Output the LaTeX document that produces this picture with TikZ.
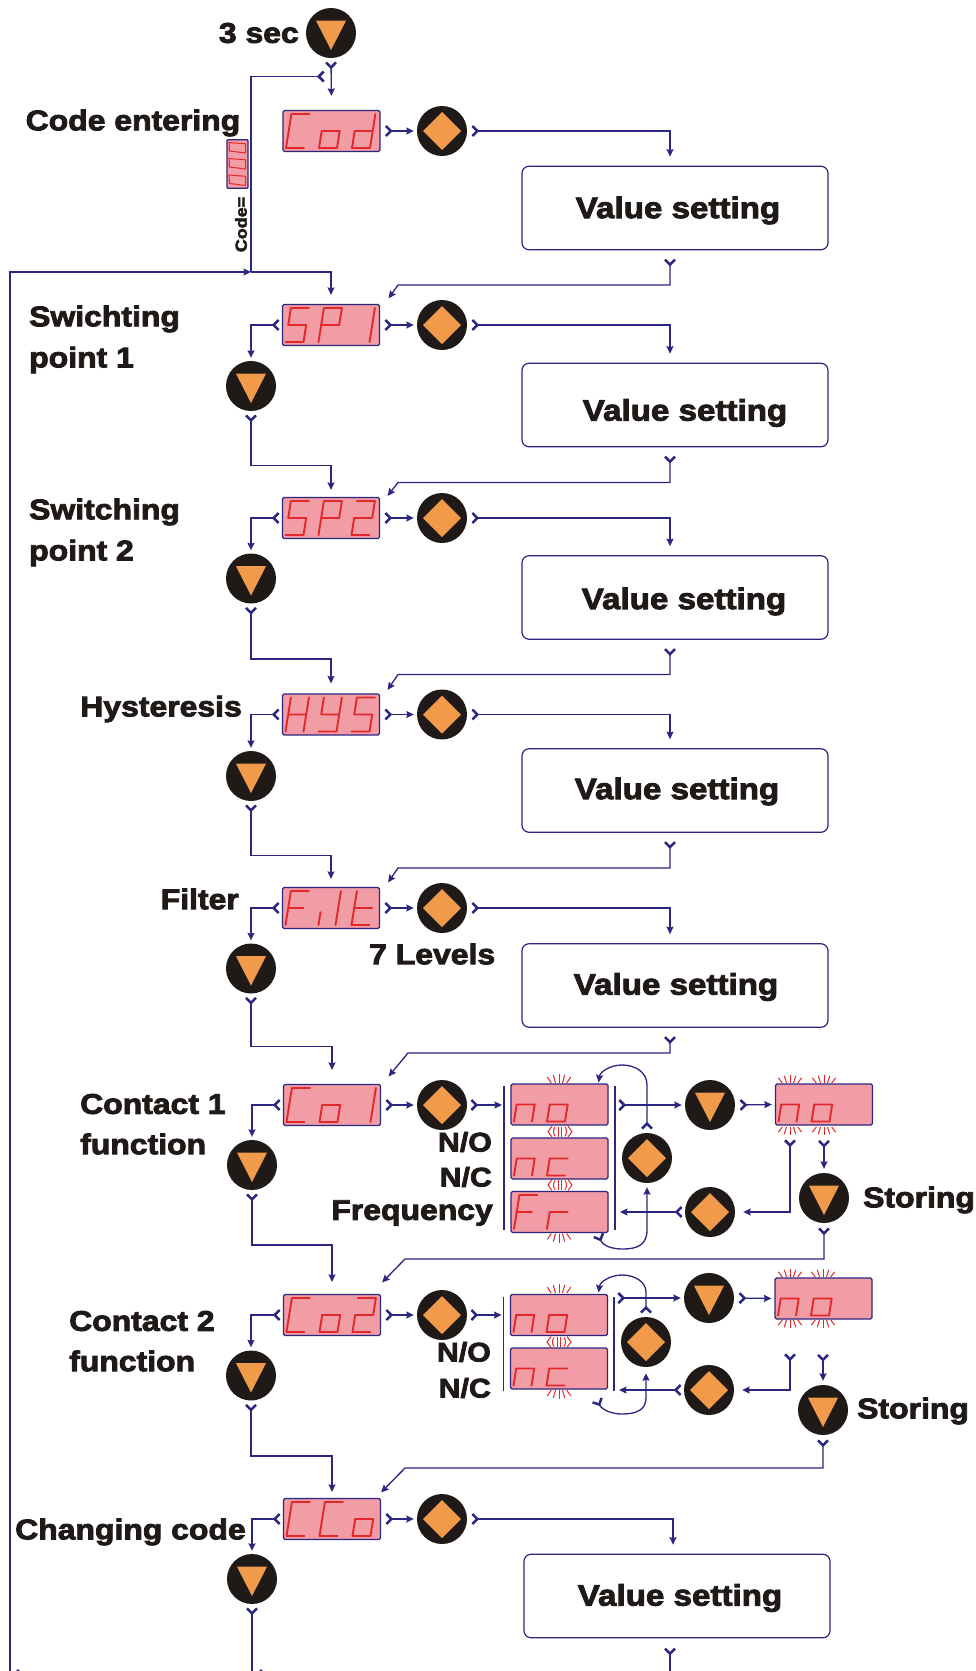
\documentclass[tikz,border=0pt]{standalone}
\usepackage{fontspec}
\setmainfont{Liberation Sans}[BoldFeatures={FakeBold=3,FakeStretch=1.12}]
\usetikzlibrary{arrows.meta,calc}
\definecolor{navy}{HTML}{2B2680}
\definecolor{ink}{HTML}{1F1A17}
\definecolor{orng}{HTML}{F09A4A}
\definecolor{pnk}{HTML}{F29CA5}
\definecolor{rd}{HTML}{E3282B}
\tikzset{
 x=1pt,y=-1pt,
 chevtip/.tip={Straight Barb[reversed,length=5pt,width=10pt,line width=2.5pt]},
 headtip/.tip={Stealth[length=7.5pt,width=7pt,inset=1pt]},
 flow/.style={draw=navy,line width=1.3pt,chevtip-headtip,shorten <=4pt,shorten >=3pt},
 chev/.style={draw=navy,line width=1.3pt,chevtip-,shorten <=4pt},
 arr/.style={draw=navy,line width=1.3pt,-headtip,shorten >=3pt},
 plain/.style={draw=navy,line width=1.3pt},
 disp/.style={draw=navy,line width=1.2pt,fill=pnk,rounded corners=1.5pt,minimum width=97pt,minimum height=41pt,inner sep=0pt},
 btn/.style={circle,fill=ink,minimum size=50pt,inner sep=0pt},
 vbox/.style={draw=navy,line width=1.2pt,fill=white,rounded corners=7pt,minimum width=306pt,minimum height=83.5pt,inner sep=0pt},
 lab/.style={font=\bfseries\fontsize{28.5}{32}\selectfont,text=ink,inner sep=0pt},
 vlab/.style={font=\bfseries\fontsize{29.6}{32}\selectfont,text=ink,inner sep=0pt},
 nlab/.style={font=\bfseries\fontsize{27}{32}\selectfont,text=ink,inner sep=0pt},
 seg/.style={draw=rd,line width=1.9pt,line join=round,line cap=round},
 ray/.style={draw=rd,line width=1pt},
}
\newcommand{\downbtn}[3]{\node[btn] (#1) at (#2,#3) {};
 \fill[orng] ([shift={(-15,-12.3)}]#1.center)--([shift={(15,-12.3)}]#1.center)--([shift={(0,17)}]#1.center)--cycle;}
\newcommand{\diabtn}[3]{\node[btn] (#1) at (#2,#3) {};
 \fill[orng] ([shift={(-19,0)}]#1.center)--([shift={(0,-19)}]#1.center)--([shift={(19,0)}]#1.center)--([shift={(0,19)}]#1.center)--cycle;}
\def\gC{(1,2)--(0,2)--(0,0)--(1,0)}
\def\go{(0,0)--(0,1)--(1,1)--(1,0)--cycle}
\def\gd{(1,2)--(1,0)--(0,0)--(0,1)--(1,1)}
\def\gS{(1,2)--(0,2)--(0,1)--(1,1)--(1,0)--(0,0)}
\def\gP{(0,0)--(0,2)--(1,2)--(1,1)--(0,1)}
\def\gone{(1,0)--(1,2)}
\def\gtwo{(0,2)--(1,2)--(1,1)--(0,1)--(0,0)--(1,0)}
\def\gH{(0,0)--(0,2) (1,0)--(1,2) (0,1)--(1,1)}
\def\gY{(0,2)--(0,1)--(1,1) (1,2)--(1,0)--(0,0)}
\def\gF{(1,2)--(0,2)--(0,0) (0,1)--(0.85,1)}
\def\gi{(0,0)--(0,0.75)}
\def\gl{(0,0)--(0,2)}
\def\gt{(0,2)--(0,0)--(1,0) (0,1)--(1,1)}
\def\gn{(0,0)--(0,1)--(1,1)--(1,0)}
\def\gc{(1,1)--(0,1)--(0,0)--(1,0)}
\def\gr{(0,0)--(0,1)--(1,1)}
\newcommand{\dig}[3]{\begin{scope}[shift={(#1.center)},shift={(#2,17)},x={(18pt,0pt)},y={(2.7pt,17pt)}]\draw[seg] #3;\end{scope}}
\newcommand{\three}[4]{\dig{#1}{-45.5}{#2}\dig{#1}{-12.5}{#3}\dig{#1}{20.5}{#4}}
\newcommand{\fan}[3]{\begin{scope}[shift={(#1,#2)}]
 \foreach \a/\b/\k in {-7.7/-11.7/0.65,-3.5/-5.7/0.9,0/0/1,3.5/5.7/0.9,7.7/11.7/0.65}{\draw[ray] (\a,0)--(\b,\k*#3);}\end{scope}}
\newcommand{\blink}[2]{\begin{scope}[shift={(#1,#2)}]
 \draw[ray] (-8,-5.5)--(-12,0)--(-8,5.5) (8,-5.5)--(12,0)--(8,5.5);
 \draw[ray] (-5,-4.5) .. controls (-7,-2) and (-7,2) .. (-5,4.5);
 \draw[ray] (5,-4.5) .. controls (7,-2) and (7,2) .. (5,4.5);
 \draw[ray] (-1.8,-5)--(-1.8,5) (1.8,-5)--(1.8,5);\end{scope}}
\begin{document}
\begin{tikzpicture}
\useasboundingbox (0,0) rectangle (976,1671);
\fill[white] (0,0) rectangle (976,1671);

% buttons
\downbtn{btop}{331}{33}
\downbtn{b1}{251}{386}
\downbtn{b2}{251}{578.5}
\downbtn{b3}{251}{776}
\downbtn{b4}{251}{968.5}
\downbtn{b5}{252}{1165}
\downbtn{b6}{251}{1375.5}
\downbtn{b7}{252}{1579}
\diabtn{m0}{442}{131}
\diabtn{m1}{442}{325}
\diabtn{m2}{442}{518}
\diabtn{m3}{442}{714.5}
\diabtn{m4}{442}{908}
\diabtn{m5}{442}{1105}
\diabtn{m6}{442}{1315}
\diabtn{m7}{442}{1519}

% displays
\node[disp] (d0) at (331.5,131) {}; \three{d0}{\gC}{\go}{\gd}
\node[disp] (d1) at (331,325) {}; \three{d1}{\gS}{\gP}{\gone}
\node[disp] (d2) at (331,518) {}; \three{d2}{\gS}{\gP}{\gtwo}
\node[disp] (d3) at (331,714.5) {}; \three{d3}{\gH}{\gY}{\gS}
\node[disp] (d4) at (331,908) {}; \dig{d4}{-45.5}{\gF}\dig{d4}{-12.5}{\gi}\dig{d4}{4.5}{\gl}\dig{d4}{20.5}{\gt}
\node[disp] (d5) at (332,1105) {}; \three{d5}{\gC}{\go}{\gone}
\node[disp] (d6) at (332,1315) {}; \three{d6}{\gC}{\go}{\gtwo}
\node[disp] (d7) at (332,1519) {}; \three{d7}{\gC}{\gC}{\go}

% value boxes
\node[vbox] (v0) at (675,208) {}; \node[vlab] (vt0) at (678,210.5) {Value setting};
\node[vbox] (v1) at (675,405) {}; \node[vlab] (vt1) at (685,413) {Value setting};
\node[vbox] (v2) at (675,597.5) {}; \node[vlab] (vt2) at (684,601.5) {Value setting};
\node[vbox] (v3) at (675,790.5) {}; \node[vlab] (vt3) at (677,791.5) {Value setting};
\node[vbox] (v4) at (675,985.5) {}; \node[vlab] (vt4) at (676,987) {Value setting};
\node[vbox] (v7) at (677,1596) {}; \node[vlab] (vt7) at (680,1598) {Value setting};

% flashing displays, contact 1
\node[disp] (a1) at (559.5,1104.5) {}; \dig{a1}{-45.5}{\gn}\dig{a1}{-12.5}{\go}
\node[disp] (a2) at (559.5,1158.5) {}; \dig{a2}{-45.5}{\gn}\dig{a2}{-12.5}{\gc}
\node[disp] (a3) at (559.5,1212) {}; \dig{a3}{-45.5}{\gF}\dig{a3}{-12.5}{\gr}
\node[disp] (a4) at (824,1104.5) {}; \dig{a4}{-45.5}{\gn}\dig{a4}{-12.5}{\go}
\diabtn{q1}{647}{1158}
\downbtn{q2}{710}{1105}
\diabtn{q3}{710}{1212}
\downbtn{q4}{824}{1198}
\coordinate (bl1a) at (504,1086); \coordinate (bl1b) at (504,1230); \coordinate (bl1m) at (504,1105);
\coordinate (br1a) at (615,1086); \coordinate (br1b) at (615,1230); \coordinate (br1m) at (615,1105); \coordinate (br1n) at (615,1212);
\draw[plain] (bl1a)--(bl1b) (br1a)--(br1b);
\fan{559}{1083}{-9}\fan{559}{1233.5}{9}
\fan{790}{1083}{-8}\fan{824}{1083}{-8}\fan{790}{1127}{8}\fan{824}{1127}{8}
\blink{560}{1131.5}\blink{560}{1185}

% flashing displays, contact 2
\node[disp] (e1) at (559,1315) {}; \dig{e1}{-45.5}{\gn}\dig{e1}{-12.5}{\go}
\node[disp] (e2) at (559,1368.5) {}; \dig{e2}{-45.5}{\gn}\dig{e2}{-12.5}{\gc}
\node[disp] (e4) at (823.5,1298.5) {}; \dig{e4}{-45.5}{\gn}\dig{e4}{-12.5}{\go}
\diabtn{r1}{646}{1342}
\downbtn{r2}{709}{1298}
\diabtn{r3}{709}{1390}
\downbtn{r4}{823}{1410}
\coordinate (bl2a) at (503.5,1297); \coordinate (bl2b) at (503.5,1391); \coordinate (bl2m) at (503.5,1315);
\coordinate (br2a) at (614,1297); \coordinate (br2b) at (614,1391); \coordinate (br2m) at (614,1298); \coordinate (br2n) at (614,1390);
\draw[plain] (bl2a)--(bl2b) (br2a)--(br2b);
\fan{559}{1293}{-9}\fan{559}{1390}{9}
\fan{790}{1277}{-8}\fan{823}{1277}{-8}\fan{790}{1320}{8}\fan{823}{1320}{8}
\blink{559}{1342}

% small code display
\node[draw=navy,line width=1.2pt,fill=pnk,rounded corners=1pt,minimum width=21pt,minimum height=48.5pt,inner sep=0pt] (sc) at (237.5,164) {};
\foreach \y in {142.5,158.5,175}{\draw[rd,line width=1pt] (229,\y)--(245.7,\y+1.3)--(245.7,\y+10.5)--(229.5,\y+8.5)--cycle;}
\node[font=\bfseries\fontsize{16}{18}\selectfont,text=ink,rotate=90,inner sep=0pt] (codeeq) at (241,224.5) {Code=};

% labels
\node[lab,anchor=east] (t1) at (299,33) {3 sec};
\node[lab,anchor=west] (t2) at (25.5,123) {Code entering};
\node[lab,anchor=west] (t3) at (29,319) {Swichting};
\node[lab,anchor=west] (t4) at (29,360) {point 1};
\node[lab,anchor=west] (t5) at (29,512) {Switching};
\node[lab,anchor=west] (t6) at (29,553) {point 2};
\node[lab,anchor=east] (t7) at (242,709) {Hysteresis};
\node[lab,anchor=east] (t8) at (239,899) {Filter};
\node[lab,anchor=west] (t9) at (369,954) {7 Levels};
\node[lab,anchor=west] (t10) at (80,1104) {Contact 1};
\node[lab,anchor=west] (t11) at (80,1144) {function};
\node[nlab,anchor=east] (t12) at (492,1142) {N/O};
\node[nlab,anchor=east] (t13) at (492,1177) {N/C};
\node[lab,anchor=east] (t14) at (493,1213) {Frequency};
\node[lab,anchor=west] (t15) at (863,1200) {Storing};
\node[lab,anchor=west] (t16) at (69,1321) {Contact 2};
\node[lab,anchor=west] (t17) at (69,1361) {function};
\node[nlab,anchor=east] (t18) at (491,1352) {N/O};
\node[nlab,anchor=east] (t19) at (491,1388) {N/C};
\node[lab,anchor=west] (t20) at (857,1411) {Storing};
\node[lab,anchor=west] (t21) at (15,1532) {Changing code};

% entry and the long left line
\coordinate (jn) at (251,272);
\coordinate (bl) at (10,1671);
\coordinate (lp) at (325,76.5);
\draw[flow,shorten <=3pt,shorten >=14pt] (btop.south) -- (d0.north);
\draw[chev,shorten <=0pt] (lp) -| (jn);
\draw[arr,shorten >=0pt] (bl) |- (jn);
\draw[arr,shorten >=9pt] (jn) -| (d1.north);

% right side: display, diamond, value box, back to the next display
\foreach \dn/\mn/\vn/\nx/\hy/\ox/\oy/\dx in {d0/m0/v0/d1/285/8.5/-5.5/398,d1/m1/v1/d2/482.5/7.5/-1/398,d2/m2/v2/d3/674.5/7.5/-3.5/398,d3/m3/v3/d4/868/8/-4.5/398,d4/m4/v4/d5/1053/7.5/-7.5/408}{
 \draw[flow] (\dn.east) -- (\mn.west);
 \draw[flow,shorten >=9pt] (\mn.east) -| (\vn.north -| 670,0);
 \draw[flow,shorten <=8pt,shorten >=0pt] (\vn.south -| 670,0) -- (670,\hy) -- (\dx,\hy) -- ($(\nx.north east)+(\ox,\oy)$);
}
\draw[flow] (d5.east) -- (m5.west);
\draw[flow] (d6.east) -- (m6.west);
\draw[flow] (d7.east) -- (m7.west);
\draw[flow,shorten >=9pt] (m7.east) -| (v7.north -| 673,0);
\coordinate (vend) at (670,1671);
\draw[chev,shorten <=9pt] (v7.south -| vend) -- (vend);

% left side: display, down button, next display
\foreach \dn/\bn/\nx/\hy/\gp in {d1/b1/d2/465.6/7,d2/b2/d3/659/10,d3/b3/d4/855.6/8,d4/b4/d5/1046.7/14,d5/b5/d6/1245/12,d6/b6/d7/1456/6}{
 \draw[flow,shorten <=2pt] (\dn.west) -| (\bn.north);
 \draw[flow,shorten <=3pt,shorten >=\gp pt] (\bn.south) -- (\bn.south |- 0,\hy) -| (\nx.north);
}
\draw[flow,shorten <=2pt] (d7.west) -| (b7.north);
\coordinate (bend) at (252,1671);
\draw[chev,shorten <=3pt] (b7.south) -- (bend);
\coordinate (mk1) at (18,1669); \coordinate (mk2) at (261,1669);
\fill[navy] (mk1) -- ++(2,2) -- ++(-4,0) -- cycle;
\fill[navy] (mk2) -- ++(2,2) -- ++(-4,0) -- cycle;

% contact 1 connectors
\draw[flow,shorten <=3pt,shorten >=2pt] (m5.east) -- (bl1m);
\draw[flow,shorten <=3pt] (br1m) -- (q2.west);
\draw[flow] (q2.east) -- (a4.west);
\coordinate (a4l) at (790,1125);
\draw[flow,shorten <=14pt,shorten >=8pt] (a4l) |- (q3.east);
\draw[flow,shorten <=14pt,shorten >=4pt] (a4.south) -- (q4.north);
\draw[flow,shorten <=2pt,shorten >=5pt] (q3.west) -- (br1n);
\draw[flow,shorten >=0pt] (q4.south) -- (q4.south |- 0,1259) -- (405,1259) -- ($(d6.north east)+(1,-11.5)$);
\draw[flow,shorten <=3pt,shorten >=0pt] (q1.north) -- (647,1085) .. controls (647,1072) and (635,1065) .. (622,1065) .. controls (610,1065) and (600,1072) .. ($(a1.north east)+(-10,-1)$);
\coordinate (lo1) at (598,1234);
\draw[flow,shorten <=0pt,shorten >=4pt] (lo1) .. controls (603,1246) and (612,1249) .. (623,1249) .. controls (637,1249) and (647,1245) .. (647,1230) -- (q1.south);

% contact 2 connectors
\draw[flow,shorten <=3pt,shorten >=2pt] (m6.east) -- (bl2m);
\draw[flow,shorten <=3pt] (br2m) -- (r2.west);
\draw[flow] (r2.east) -- (e4.west);
\coordinate (e4l) at (790,1319);
\draw[flow,shorten <=34pt,shorten >=8pt] (e4l) |- (r3.east);
\draw[flow,shorten <=34pt,shorten >=4pt] (e4.south -| r4.north) -- (r4.north);
\draw[flow,shorten <=2pt,shorten >=5pt] (r3.west) -- (br2n);
\draw[flow,shorten >=0pt] (r4.south) -- (r4.south |- 0,1468) -- (405,1468) -- ($(d7.north east)+(0,-5.5)$);
\draw[flow,shorten <=3pt,shorten >=0pt] (r1.north) -- (646,1292) .. controls (646,1282) and (635,1275) .. (622,1275) .. controls (610,1275) and (600,1282) .. ($(e1.north east)+(-9.5,-1.5)$);
\coordinate (lo2) at (596.5,1399);
\draw[flow,shorten <=0pt,shorten >=6pt] (lo2) .. controls (602,1410) and (612,1414) .. (622,1414) .. controls (636,1414) and (646,1410) .. (646,1398) -- (r1.south);
\end{tikzpicture}
\end{document}
